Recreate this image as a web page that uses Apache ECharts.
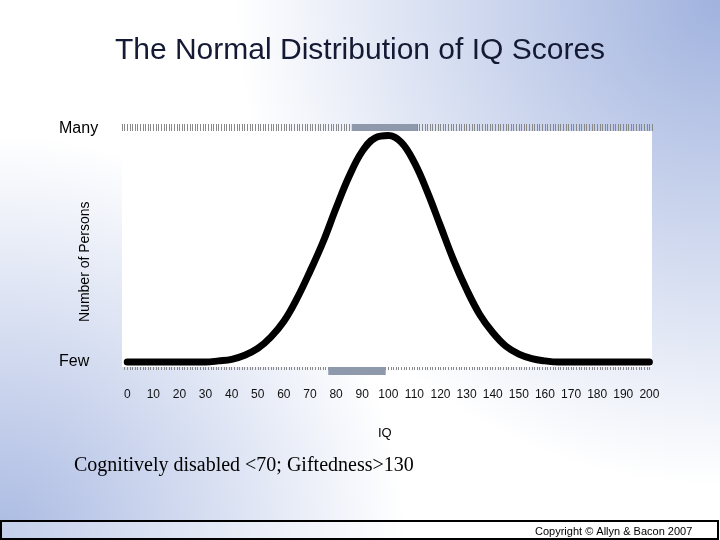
<!DOCTYPE html>
<html><head><meta charset="utf-8">
<script src="https://cdn.jsdelivr.net/npm/echarts@6/dist/echarts.min.js"></script>
<style>html,body{margin:0;padding:0}#c{width:720px;height:540px}</style>
</head><body><div id="c"></div>
<script>
var iq = [0,5,10,15,20,25,30,35,40,45,50,55,60,65,70,75,80,85,90,95,100,105,110,115,120,125,130,135,140,145,150,155,160,165,170,175,180,185,190,195,200];
var persons = [0,0,0,0,0,0,0,0.005,0.012,0.03,0.06,0.11,0.18,0.28,0.4,0.53,0.68,0.82,0.93,0.99,1,0.97,0.88,0.75,0.6,0.45,0.32,0.21,0.13,0.07,0.035,0.015,0.005,0,0,0,0,0,0,0,0];
var topBand = [86, 111];
var bottomBand = [77, 99];
var title = 'The Normal Distribution of IQ Scores';

var chart = echarts.init(document.getElementById('c'));
function band(range, pos){
  return {type:'custom', xAxisIndex:0, yAxisIndex:0, silent:true, z:1,
    data:[range],
    renderItem:function(params, api){
      var a = api.coord([api.value(0), 0]), b = api.coord([api.value(1), 0]);
      var y = pos==='top' ? 124 : 367;
      return {type:'rect', shape:{x:a[0], y:y, width:b[0]-a[0], height:8}, style:{fill:'#8e9aab'}};
    }};
}
chart.setOption({
  backgroundColor:'#ffffff',
  grid:{left:122, right:68, top:131, bottom:173, backgroundColor:'#ffffff', show:true, borderWidth:0, z:2},
  xAxis:[
    {type:'value', min:-2, max:201, interval:1, position:'bottom',
     axisLine:{show:false}, splitLine:{show:false},
     axisTick:{show:true, length:8, inside:false, lineStyle:{color:'#888', width:1}},
     axisLabel:{margin:22, color:'#111', fontFamily:'Arial', fontSize:12,
       formatter:function(v){return (v>=0 && v%10===0)? String(v):'';}, interval:0, showMinLabel:false, showMaxLabel:false}},
    {type:'value', min:-2, max:201, interval:1, position:'top',
     axisLine:{show:false}, splitLine:{show:false},
     axisTick:{show:true, length:7, lineStyle:{color:'#888', width:1}},
     axisLabel:{show:false}}
  ],
  yAxis:{type:'value', min:-0.022, max:1.02, show:false},
  series:[
    band(topBand,'top'), band(bottomBand,'bottom'),
    {type:'line', smooth:0.4, symbol:'none', z:3, data:iq.map(function(x,i){return [x, persons[i]];}),
     lineStyle:{color:'#000', width:7, cap:'round'}}
  ],
  graphic:[
    {type:'rect', z:-10, silent:true, shape:{x:0,y:0,width:720,height:540}, style:{fill:{type:'radial', x:1, y:0, r:0.9, colorStops:[{offset:0,color:'rgba(160,178,222,1)'},{offset:1,color:'rgba(160,178,222,0)'}]}}},
    {type:'rect', z:-10, silent:true, shape:{x:0,y:0,width:720,height:540}, style:{fill:{type:'radial', x:0, y:1, r:0.75, colorStops:[{offset:0,color:'rgba(170,186,226,1)'},{offset:1,color:'rgba(170,186,226,0)'}]}}},
    {type:'text', left:'center', top:36, style:{text:title, font:'30px Arial, "Liberation Sans"', fill:'#141a33', shadowColor:'rgba(0,0,0,0.3)', shadowOffsetX:3, shadowOffsetY:3, shadowBlur:1}},
    {type:'text', x:59, y:121, style:{text:'Many', font:'16px Arial, "Liberation Sans"', fill:'#000'}},
    {type:'text', x:59, y:354, style:{text:'Few', font:'16px Arial, "Liberation Sans"', fill:'#000'}},
    {type:'text', x:78, y:322, rotation:Math.PI/2, style:{text:'Number of Persons', font:'14px Arial, "Liberation Sans"', fill:'#000'}},
    {type:'text', x:378, y:302, rotation:Math.PI/2, style:{text:'Normal Range', font:'14px Arial, "Liberation Sans"', fill:'#000'}},
    {type:'text', x:378, y:427, style:{text:'IQ', font:'13px Arial, "Liberation Sans"', fill:'#000'}},
    {type:'text', x:74, y:456, style:{text:'Cognitively disabled <70; Giftedness>130', font:'20px "Times New Roman", "Liberation Serif"', fill:'#000'}},
    {type:'rect', shape:{x:1, y:521, width:717, height:18}, style:{fill:'rgba(255,255,255,0.3)', stroke:'#000', lineWidth:2}},
    {type:'text', x:535, y:526, style:{text:'Copyright © Allyn & Bacon 2007', font:'11px Arial, "Liberation Sans"', fill:'#000'}}
  ]
});
</script></body></html>
